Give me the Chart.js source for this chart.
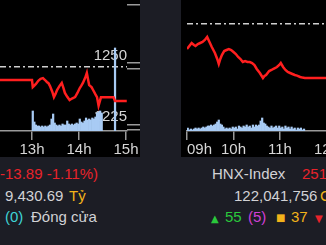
<!DOCTYPE html>
<html lang="vi">
  <head>
    <meta charset="UTF-8" />
    <title>VN-Index / HNX-Index</title>
    <script src="https://cdn.jsdelivr.net/npm/chart.js"></script>
    <style>
      body {
        margin: 0;
        width: 326px;
        height: 245px;
        overflow: hidden;
        position: relative;
        background: #1c1d25;
        font-family: 'Liberation Sans', Arial, sans-serif;
        font-size: 15px;
      }
      .panel {
        position: absolute;
        top: 0;
        height: 157px;
        background: #000;
        overflow: hidden;
      }
      #vnPanel { left: 0; width: 140px; }
      #hnxPanel { left: 181px; width: 200px; }
      canvas { display: block; }
      .t {
        position: absolute;
        line-height: 18px;
        white-space: nowrap;
      }
      .gray { color: #d2d2d5; }
      .red { color: #e8232b; }
      .yellow { color: #f2b31a; }
      .cyan { color: #3fd3d6; }
      .green { color: #2ac83c; }
      .magenta { color: #d23fd6; }
      .sym { font-family: 'DejaVu Sans', sans-serif; font-size: 10px; }
    </style>
  </head>
  <body>
    <div class="panel" id="vnPanel"><canvas id="vnChart" width="140" height="157"></canvas></div>
    <div class="panel" id="hnxPanel"><canvas id="hnxChart" width="200" height="157"></canvas></div>

    <!-- Left info -->
    <div class="t red" style="left:0;top:165px">-13.89 -1.11%)</div>
    <div class="t gray" style="left:5px;top:187px">9,430.69</div>
    <div class="t yellow" style="left:69px;top:187px">Tỷ</div>
    <div class="t cyan" style="left:5px;top:208px">(0)</div>
    <div class="t gray" style="left:31px;top:208px">Đóng cửa</div>

    <!-- Right info -->
    <div class="t gray" style="left:212px;top:165px">HNX-Index</div>
    <div class="t red" style="left:302px;top:165px">251.30</div>
    <div class="t gray" style="left:234px;top:187px">122,041,756</div>
    <div class="t yellow" style="left:320px;top:187px">CP</div>
    <div class="t green sym" style="left:211px;top:210px">▲</div>
    <div class="t green" style="left:225px;top:208px">55</div>
    <div class="t magenta" style="left:248px;top:208px">(5)</div>
    <div class="t yellow sym" style="left:276px;top:209px">■</div>
    <div class="t yellow" style="left:291px;top:208px">37</div>
    <div class="t red sym" style="left:315px;top:210px">▼</div>

    <script>
      // VN-Index (afternoon part visible), time in minutes since 0h
      const vnTimes = [690, 780, 781, 783, 785, 788, 791, 794, 797, 799, 801, 803, 806, 808, 810, 812,
        815, 818, 820, 822, 825, 828, 831, 835, 838, 841, 843, 845, 848, 850, 852, 853, 856, 858,
        861, 863, 865, 868, 884, 886, 901];
      const vnPrices = [1245.5, 1245.5, 1242.6, 1243.2, 1243.9, 1245.2, 1246.0, 1246.3, 1245.4, 1244.7,
        1244.2, 1243.0, 1240.6, 1238.5, 1239.8, 1241.4, 1243.0, 1244.3, 1242.4, 1240.2, 1238.6, 1237.3,
        1237.9, 1238.5, 1240.2, 1242.2, 1243.2, 1244.3, 1246.5, 1248.4, 1245.0, 1243.4, 1242.6, 1241.4,
        1239.6, 1238.5, 1235.0, 1238.4, 1238.4, 1236.9, 1236.9];
      const vnRef = 1250.8;
      const vnVolStart = 781; // 2-minute bins
      const vnVolumes = [20, 9, 6, 5, 5, 4, 5, 4, 5, 4, 5, 6, 12, 17, 8, 6, 5, 6, 5, 7, 6, 6, 10, 7, 6,
        7, 6, 7, 8, 7, 12, 9, 8, 10, 13, 11, 12, 11, 13, 12, 14, 18, 19, 20, 18];
      const vnAtcTime = 886;
      const vnAtcVolume = 83;
      const vnTimeTicks = [780, 840, 900];
      const vnTimeLabels = ['13h', '14h', '15h'];
      const vnPriceTicks = [1225, 1227, 1250, 1252.5, 1276.2];
      const vnPriceLabeled = [1225, 1250];

      // HNX-Index (morning session)
      const hnxTimes = [540, 544, 546, 549, 551, 554, 557, 560, 563, 566, 569, 572, 576, 579, 581, 583,
        585, 588, 591, 594, 597, 600, 603, 606, 609, 612, 615, 618, 621, 624, 627, 630, 634, 638, 640,
        642, 646, 649, 651, 654, 656, 659, 661, 664, 667, 670, 673, 676, 679, 682, 686, 689, 692, 790];
      const hnxPrices = [252.75, 252.95, 253.05, 252.95, 252.9, 253.0, 253.05, 253.1, 253.2, 253.35,
        253.1, 252.85, 252.55, 252.25, 252.0, 252.25, 252.45, 252.65, 252.7, 252.75, 252.7, 252.6, 252.5,
        252.35, 252.25, 252.1, 252.15, 252.1, 252.1, 252.05, 251.95, 251.75, 251.55, 251.3, 251.4,
        251.45, 251.65, 251.7, 251.75, 251.8, 251.85, 251.95, 252.05, 251.85, 251.7, 251.6, 251.55,
        251.5, 251.45, 251.42, 251.35, 251.32, 251.3, 251.3];
      const hnxRef = 254.0;
      const hnxVolStart = 541;
      const hnxVolumes = [3, 1, 2, 1, 2, 3, 2, 3, 2, 3, 4, 3, 4, 5, 5, 6, 5, 6, 7, 9, 11, 7, 6, 4, 2,
        3, 2, 3, 2, 4, 3, 4, 2, 5, 4, 3, 5, 4, 6, 4, 5, 3, 6, 4, 6, 5, 6, 10, 13, 8, 7, 5, 4, 3, 5, 3,
        4, 5, 3, 5, 3, 4, 2, 5, 3, 4, 2, 4, 2, 3, 1, 3, 2, 3, 1, 2];
      const hnxTimeTicks = [540, 600, 660, 720, 780];
      const hnxTimeLabels = ['09h', '10h', '11h', '12h', '13h'];

      const FONT = { family: "'Liberation Sans', Arial, sans-serif", size: 15 };
      const AXIS = '#9a9a9a';
      const LABEL = '#d6d6d6';

      function pts(xs, ys) {
        return xs.map((x, i) => ({ x: x, y: ys[i] }));
      }

      function volPts(start, vols) {
        return vols.map((v, i) => ({ x: start + i * 2, y: v }));
      }

      function noPad(s) {
        s.paddingLeft = 0;
        s.paddingRight = 0;
        s.paddingTop = 0;
        s.paddingBottom = 0;
      }

      function xScale(min, max, ticks, labels, align) {
        return {
          type: 'linear',
          min: min,
          max: max,
          offset: false,
          afterBuildTicks: (s) => {
            s.ticks = ticks.map((v) => ({ value: v }));
          },
          afterFit: (s) => {
            s.height = 26;
            noPad(s);
          },
          grid: { drawOnChartArea: false, offset: false, color: AXIS, lineWidth: 1.5, tickLength: 9 },
          border: { color: AXIS, width: 1.5 },
          ticks: {
            color: LABEL,
            font: FONT,
            padding: 1,
            align: align,
            maxRotation: 0,
            autoSkip: false,
            callback: (v) => labels[ticks.indexOf(v)],
          },
        };
      }

      // reference (previous close) level, drawn as a dash-dot grid line
      function refScale(min, max, ref) {
        return {
          position: 'left',
          min: min,
          max: max,
          afterBuildTicks: (s) => {
            s.ticks = [{ value: ref }];
          },
          afterFit: (s) => {
            s.width = 0;
            noPad(s);
          },
          grid: { drawOnChartArea: true, drawTicks: false, color: '#d0d0d0', lineWidth: 1.5 },
          border: { display: false, dash: [6, 3, 2, 3] },
          ticks: { display: false },
        };
      }

      // hidden volume axis, volume sits at the bottom of the plot
      const volScale = {
        display: false,
        position: 'left',
        min: 0,
        max: 131,
        grid: { display: false },
        border: { display: false },
        ticks: { display: false },
      };

      function priceLine(xs, ys) {
        return {
          type: 'line',
          data: pts(xs, ys),
          borderColor: '#ff1f1f',
          borderWidth: 2.5,
          pointRadius: 0,
          tension: 0,
          yAxisID: 'y',
          order: 0,
        };
      }

      function volBars(data) {
        return {
          type: 'bar',
          data: data,
          backgroundColor: '#a8cbf4',
          borderWidth: 0,
          barPercentage: 1,
          categoryPercentage: 1,
          yAxisID: 'vol',
          order: 2,
        };
      }

      function baseOptions() {
        return {
          responsive: false,
          animation: false,
          events: [],
          plugins: { legend: { display: false }, tooltip: { enabled: false } },
        };
      }

      // Left chart: VN-Index
      const vnMin = 1224.6;
      const vnMax = 1278.3;
      const vnOpts = baseOptions();
      vnOpts.layout = { padding: 0 };
      vnOpts.scales = {
        x: xScale(739.15, 901.28, vnTimeTicks, vnTimeLabels, 'center'),
        // tick marks on the right edge
        y: {
          position: 'right',
          weight: 1,
          min: vnMin,
          max: vnMax,
          afterBuildTicks: (s) => {
            s.ticks = vnPriceTicks.map((v) => ({ value: v }));
          },
          afterFit: (s) => {
            s.width = 13;
            noPad(s);
          },
          grid: { drawOnChartArea: false, color: AXIS, lineWidth: 1.5, tickLength: 13 },
          border: { display: false },
          ticks: { display: false },
        },
        // price labels drawn inside the plot, above their level
        yl: {
          position: 'right',
          weight: 0,
          min: vnMin,
          max: vnMax,
          afterBuildTicks: (s) => {
            s.ticks = vnPriceLabeled.map((v) => ({ value: v }));
          },
          afterFit: (s) => {
            s.width = 0;
            noPad(s);
          },
          grid: { display: false },
          border: { display: false },
          ticks: {
            mirror: true,
            padding: 0,
            labelOffset: -13,
            color: LABEL,
            font: FONT,
            autoSkip: false,
            callback: (v) => String(v),
          },
        },
        yr: refScale(vnMin, vnMax, vnRef),
        vol: volScale,
      };

      new Chart(document.getElementById('vnChart'), {
        type: 'line',
        data: {
          datasets: [
            priceLine(vnTimes, vnPrices),
            volBars(volPts(vnVolStart, vnVolumes).concat([{ x: vnAtcTime, y: vnAtcVolume }])),
          ],
        },
        options: vnOpts,
      });

      // Right chart: HNX-Index
      const hnxMin = 248.65;
      const hnxMax = 255.2;
      const hnxOpts = baseOptions();
      hnxOpts.layout = { padding: { left: 6, top: 0, right: 0, bottom: 0 } };
      hnxOpts.scales = {
        x: xScale(540, 790.3, hnxTimeTicks, hnxTimeLabels, 'inner'),
        y: { display: false, min: hnxMin, max: hnxMax },
        yr: refScale(hnxMin, hnxMax, hnxRef),
        vol: volScale,
      };

      new Chart(document.getElementById('hnxChart'), {
        type: 'line',
        data: {
          datasets: [
            priceLine(hnxTimes, hnxPrices),
            volBars(volPts(hnxVolStart, hnxVolumes)),
          ],
        },
        options: hnxOpts,
      });
    </script>
  </body>
</html>
